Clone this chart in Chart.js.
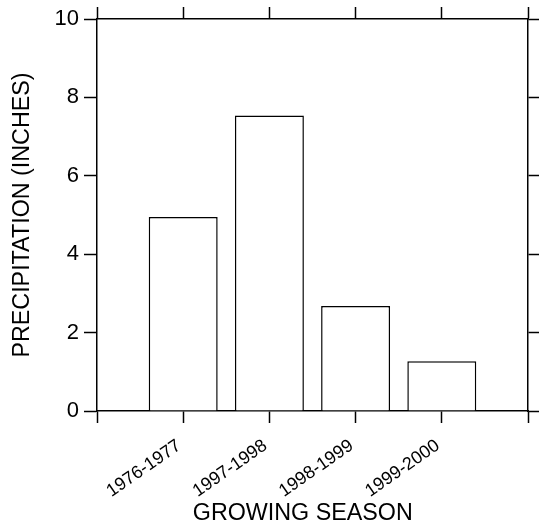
<!DOCTYPE html>
<html>
<head>
<meta charset="utf-8">
<script src="https://cdn.jsdelivr.net/npm/chart.js@4"></script>
<style>
    html, body { margin: 0; padding: 0; background: #fff; }
    #wrap { width: 539px; height: 531px; }
</style>
</head>
<body>
<div id="wrap"><canvas id="graphCanvas"></canvas></div>
<script>
const SEASONS = ["1976-1977", "1997-1998", "1998-1999", "1999-2000"];
const PRECIP = [4.95, 7.54, 2.68, 1.27];
const Y_MIN = 0;
const Y_MAX = 10;
const Y_STEP = 2;

// empty slot at each end so the ticks sit at the bar centres and the frame edges
const labels = [""].concat(SEASONS, [""]);
const values = [null].concat(PRECIP, [null]);

Chart.defaults.font.family = "'Liberation Sans', Arial, sans-serif";
Chart.defaults.color = "#000";

const axisBorder = { display: true, color: "#000", width: 1.5 };
const axisGrid = {
    display: true,
    offset: false,
    drawOnChartArea: false,
    drawTicks: true,
    tickLength: 12,
    tickColor: "#000",
    tickWidth: 1.5
};

// pin every axis to a fixed size so the frame lands where the original one is
function fixSize(w, h) {
    return s => {
        if (w !== null) s.width = w;
        if (h !== null) s.height = h;
        s.paddingTop = 0;
        s.paddingBottom = 0;
        s.paddingLeft = 0;
        s.paddingRight = 0;
    };
}

const ctx = document.getElementById('graphCanvas');

new Chart(ctx, {
    type: 'bar',
    data: {
        labels: labels,
        datasets: [{
            data: values,
            backgroundColor: "#fff",
            borderColor: "#000",
            borderWidth: 1.5,
            barPercentage: 0.8,
            categoryPercentage: 1
        }]
    },
    options: {
        animation: false,
        responsive: true,
        maintainAspectRatio: false,
        devicePixelRatio: 1,
        layout: { padding: 0 },
        scales: {
            x: {
                type: 'category',
                position: 'bottom',
                offset: false,
                border: axisBorder,
                grid: axisGrid,
                ticks: {
                    autoSkip: false,
                    minRotation: 35,
                    maxRotation: 35,
                    padding: 12,
                    labelOffset: -4,
                    font: { size: 18 }
                },
                title: {
                    display: true,
                    // trailing spaces nudge the centred title a little left, as in the original
                    text: "GROWING SEASON\u00a0\u00a0\u00a0",
                    font: { size: 23.3 },
                    padding: { top: 0, bottom: 3 }
                },
                afterFit: fixSize(null, 120)
            },
            x2: {
                type: 'category',
                position: 'top',
                offset: false,
                border: axisBorder,
                grid: axisGrid,
                ticks: { display: false },
                afterFit: fixSize(null, 19)
            },
            y: {
                min: Y_MIN,
                max: Y_MAX,
                border: axisBorder,
                grid: Object.assign({}, axisGrid, { tickLength: 13 }),
                ticks: {
                    stepSize: Y_STEP,
                    padding: 5,
                    font: { size: 22 }
                },
                title: {
                    display: true,
                    text: "PRECIPITATION (INCHES)",
                    font: { size: 23.3 },
                    padding: { top: 9, bottom: 0 }
                },
                afterFit: fixSize(97, null)
            },
            y2: {
                position: 'right',
                min: Y_MIN,
                max: Y_MAX,
                border: axisBorder,
                grid: axisGrid,
                ticks: { display: false, stepSize: Y_STEP },
                afterFit: fixSize(11, null)
            }
        },
        plugins: {
            legend: { display: false },
            tooltip: { enabled: false }
        }
    }
});
</script>
</body>
</html>
